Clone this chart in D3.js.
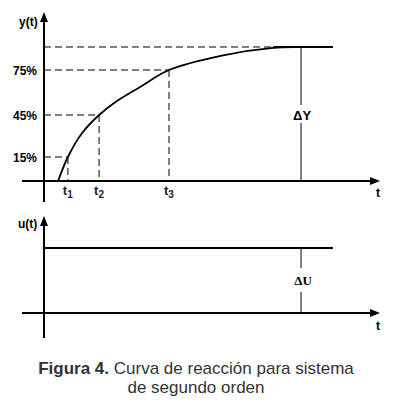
<!DOCTYPE html>
<html><head><meta charset="utf-8">
<script src="https://cdn.jsdelivr.net/npm/d3@7"></script>
<style>body{margin:0;background:#fff;}svg{display:block;font-family:"Liberation Sans",Arial,sans-serif;}</style>
</head><body>
<script>
// ---- data ----
const curveT = [4.2, 7.1, 11.3, 16.4, 21.7, 28.6, 37.2, 53.3, 68.2, 76.2, 86];
const curveY = [0, 15, 32, 45, 54.3, 63.7, 75, 91, 99, 100, 100];
const levelLabels = ["15%", "45%", "75%"];
const levelValues = [15, 45, 75];
const timeMarks = [7.1, 16.4, 37.2];
const timeSubs = ["1", "2", "3"];
const finalValue = 100;
const deltaT = 76.5;
const stepStart = 0;
const stepEnd = 86;
const uLevel = 1;
const captionBold = "Figura 4.";
const captionRest = " Curva de reacción para sistema";
const captionLine2 = "de segundo orden";

const W = 411, H = 405;
const svg = d3.select("body").append("svg").attr("width", W).attr("height", H);

const x = d3.scaleLinear().domain([0, 100]).range([44, 380]);
const y = d3.scaleLinear().domain([0, 15, 45, 75, 100]).range([181, 157, 115, 70, 47]);
const u = d3.scaleLinear().domain([0, 1]).range([313, 248]);

const dash = "7,4";
const dashColor = "#555";

function arrowUp(g, cx, tipY) {
  g.append("path").attr("d", `M${cx},${tipY} L${cx-4},${tipY+10} L${cx+4},${tipY+10} Z`).attr("fill", "#000");
}
function arrowRight(g, tipX, cy) {
  g.append("path").attr("d", `M${tipX},${cy} L${tipX-10},${cy-4} L${tipX-10},${cy+4} Z`).attr("fill", "#000");
}

// ---------- Top plot ----------
const gTop = svg.append("g");
levelValues.forEach(v => {
  const idx = curveY.indexOf(v);
  gTop.append("line").attr("x1", x(0)).attr("x2", x(curveT[idx])).attr("y1", y(v)).attr("y2", y(v))
    .attr("stroke", dashColor).attr("stroke-width", 1.5).attr("stroke-dasharray", dash);
});
gTop.append("line").attr("x1", x(0)).attr("x2", x(deltaT)).attr("y1", y(finalValue)).attr("y2", y(finalValue))
  .attr("stroke", dashColor).attr("stroke-width", 1.5).attr("stroke-dasharray", dash);
timeMarks.forEach(t => {
  const idx = curveT.indexOf(t);
  gTop.append("line").attr("x1", x(t)).attr("x2", x(t)).attr("y1", y(curveY[idx])).attr("y2", y(0))
    .attr("stroke", dashColor).attr("stroke-width", 1.5).attr("stroke-dasharray", dash);
});
gTop.append("line").attr("x1", x(68.2)).attr("x2", x(stepEnd)).attr("y1", y(finalValue)).attr("y2", y(finalValue))
  .attr("stroke", "#000").attr("stroke-width", 1.8);
const pts = curveT.map((t, i) => [t, curveY[i]]);
gTop.append("path").datum(pts)
  .attr("d", d3.line().x(d => x(d[0])).y(d => y(d[1])).curve(d3.curveCatmullRom.alpha(0.5)))
  .attr("fill", "none").attr("stroke", "#000").attr("stroke-width", 1.8);
gTop.append("line").attr("x1", x(deltaT)).attr("x2", x(deltaT)).attr("y1", y(finalValue)).attr("y2", 105)
  .attr("stroke", "#000").attr("stroke-width", 1);
gTop.append("line").attr("x1", x(deltaT)).attr("x2", x(deltaT)).attr("y1", 123).attr("y2", y(0))
  .attr("stroke", "#000").attr("stroke-width", 1);
gTop.append("text").attr("x", x(deltaT) + 1).attr("y", 120).attr("text-anchor", "middle")
  .attr("font-size", 13).attr("font-weight", "bold").text("ΔY");
gTop.append("line").attr("x1", 22).attr("x2", 372).attr("y1", y(0)).attr("y2", y(0)).attr("stroke", "#000").attr("stroke-width", 2);
arrowRight(gTop, 380, y(0));
gTop.append("line").attr("x1", x(0)).attr("x2", x(0)).attr("y1", 202).attr("y2", 20).attr("stroke", "#000").attr("stroke-width", 2);
arrowUp(gTop, x(0), 12);
gTop.append("text").attr("x", 19).attr("y", 26).attr("font-size", 12).attr("font-weight", "bold").text("y(t)");
levelValues.forEach((v, i) => {
  gTop.append("text").attr("x", 37).attr("y", y(v) + 4.5).attr("text-anchor", "end")
    .attr("font-size", 12).attr("font-weight", "bold").text(levelLabels[i]);
});
timeMarks.forEach((t, i) => {
  const tx = gTop.append("text").attr("x", x(t) - 5).attr("y", 195).attr("font-size", 13)
    .attr("font-weight", "bold").attr("fill", "#222");
  tx.append("tspan").text("t");
  tx.append("tspan").attr("font-size", 10).attr("dy", 3).text(timeSubs[i]);
});
gTop.append("text").attr("x", 378).attr("y", 197).attr("text-anchor", "middle").attr("font-size", 12).attr("font-weight", "bold").text("t");

// ---------- Bottom plot ----------
const gBot = svg.append("g");
gBot.append("line").attr("x1", x(stepStart)).attr("x2", x(stepEnd)).attr("y1", u(uLevel)).attr("y2", u(uLevel))
  .attr("stroke", "#000").attr("stroke-width", 1.8);
gBot.append("line").attr("x1", x(deltaT)).attr("x2", x(deltaT)).attr("y1", u(uLevel)).attr("y2", 268)
  .attr("stroke", "#000").attr("stroke-width", 1);
gBot.append("line").attr("x1", x(deltaT)).attr("x2", x(deltaT)).attr("y1", 292).attr("y2", u(0))
  .attr("stroke", "#000").attr("stroke-width", 1);
gBot.append("text").attr("x", x(deltaT) + 2).attr("y", 285).attr("text-anchor", "middle")
  .attr("font-size", 13).attr("font-weight", "bold").attr("font-family", "Liberation Serif, serif").text("ΔU");
gBot.append("line").attr("x1", 22).attr("x2", 372).attr("y1", u(0)).attr("y2", u(0)).attr("stroke", "#000").attr("stroke-width", 2);
arrowRight(gBot, 380, u(0));
gBot.append("line").attr("x1", x(0)).attr("x2", x(0)).attr("y1", 338).attr("y2", 224).attr("stroke", "#000").attr("stroke-width", 2);
arrowUp(gBot, x(0), 216);
gBot.append("text").attr("x", 18).attr("y", 228).attr("font-size", 12).attr("font-weight", "bold").text("u(t)");
gBot.append("text").attr("x", 378).attr("y", 330).attr("text-anchor", "middle").attr("font-size", 12).attr("font-weight", "bold").text("t");

// ---------- Caption ----------
const cap = svg.append("text").attr("x", 196).attr("y", 374).attr("text-anchor", "middle").attr("font-size", 17).attr("fill", "#333");
cap.append("tspan").attr("font-weight", "bold").text(captionBold);
cap.append("tspan").text(captionRest);
svg.append("text").attr("x", 196).attr("y", 393).attr("text-anchor", "middle").attr("font-size", 17).attr("fill", "#333").text(captionLine2);
</script>
</body></html>
